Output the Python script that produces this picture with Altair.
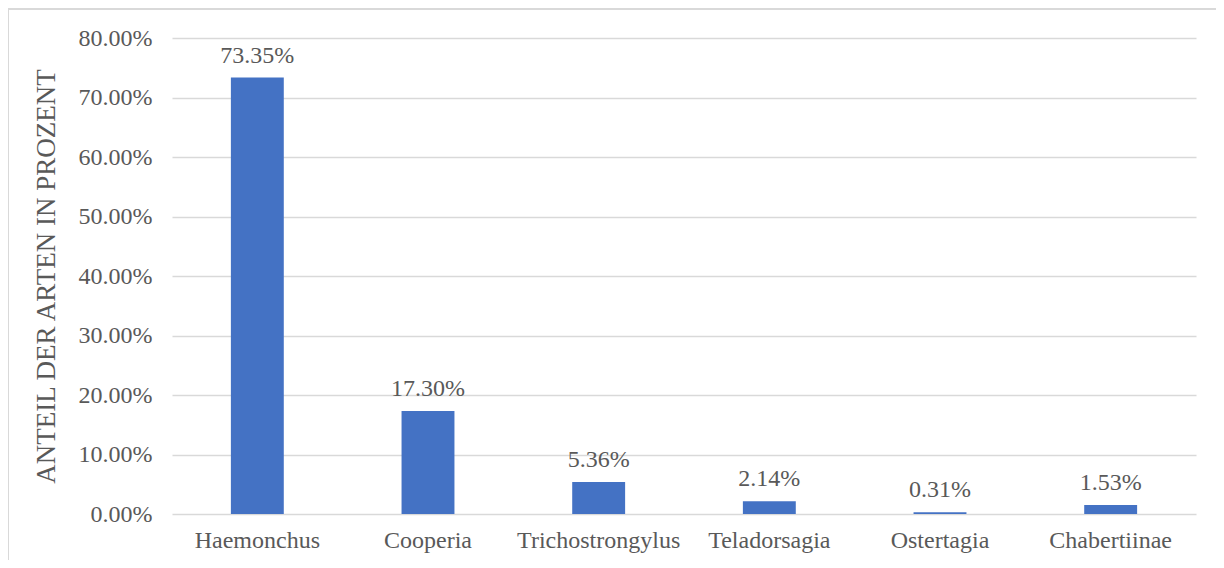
import altair as alt
import pandas as pd

categories = ["Haemonchus", "Cooperia", "Trichostrongylus", "Teladorsagia", "Ostertagia", "Chabertiinae"]
values = [73.35, 17.30, 5.36, 2.14, 0.31, 1.53]
labels = ["73.35%", "17.30%", "5.36%", "2.14%", "0.31%", "1.53%"]
ticks = [0, 10, 20, 30, 40, 50, 60, 70, 80]

df = pd.DataFrame({"cat": categories, "val": [v / 100 for v in values], "lab": labels})

FONT = "Liberation Serif"
GRAY = "#595959"

x = alt.X("cat:N", sort=categories, title=None,
          scale=alt.Scale(paddingInner=0.69, paddingOuter=0.345),
          axis=alt.Axis(labelAngle=0, labelFont=FONT, labelFontSize=24, labelColor=GRAY,
                        ticks=False, domain=False, labelPadding=14, labelBaseline="top"))
y = alt.Y("val:Q", title="ANTEIL DER ARTEN IN PROZENT",
          scale=alt.Scale(domain=[0, 0.8], nice=False),
          axis=alt.Axis(format=".2%", values=[t / 100 for t in ticks], labelOverlap=False,
                        labelFont=FONT, labelFontSize=24, labelColor=GRAY,
                        titleFont=FONT, titleFontSize=27, titleColor=GRAY, titleFontWeight="normal",
                        titlePadding=18, ticks=False, domain=False, labelPadding=20,
                        gridColor="#d9d9d9", gridWidth=1.5))

base = alt.Chart(df)
bars = base.mark_bar(color="#4472C4").encode(x=x, y=y)
text = base.mark_text(font=FONT, fontSize=24, color=GRAY, baseline="alphabetic", dy=-15).encode(
    x=alt.X("cat:N", sort=categories), y="val:Q", text="lab:N")
border = base.mark_rect(filled=False, stroke="#d9d9d9", strokeWidth=1.5).encode(
    x=alt.value(-164), x2=alt.value(1047), y=alt.value(-29), y2=alt.value(600))

chart = alt.layer(border, bars, text).properties(
    width=1024, height=476,
    autosize=alt.AutoSizeParams(type="none"),
    padding={"left": 164, "top": 30, "right": 20, "bottom": 46},
).configure_view(stroke=None)

chart.save("out.html", embed_options={"renderer": "svg", "actions": False})
